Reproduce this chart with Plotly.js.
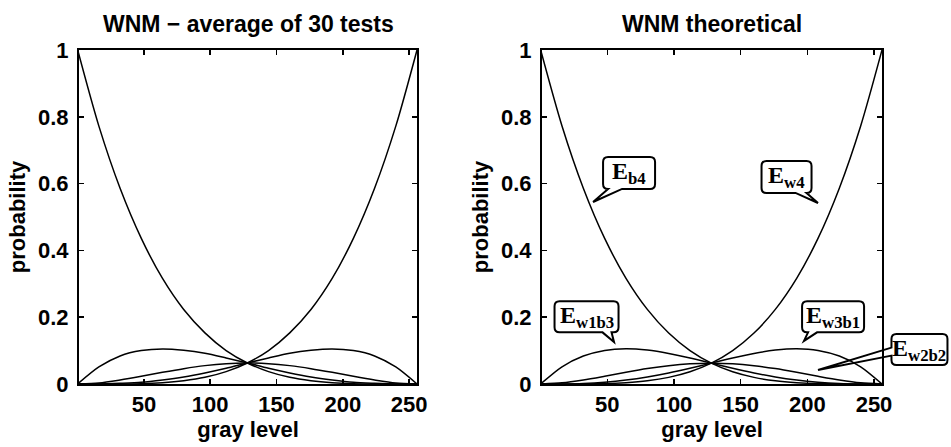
<!DOCTYPE html>
<html>
<head>
<meta charset="utf-8">
<script src="https://cdn.plot.ly/plotly-3.0.1.min.js"></script>
<style>html,body{margin:0;padding:0;background:#fff;}#chart{width:951px;height:447px;}</style>
</head>
<body>
<div id="chart"></div>
<script>
// ---- data ----
const grayLevel = [0,16,32,48,64,80,96,112,128,144,160,176,192,208,224,240,256];

// left panel: WNM - average of 30 tests
const avgEb4   = [1.000,0.772,0.586,0.436,0.316,0.223,0.153,0.100,0.063,0.037,0.020,0.010,0.004,0.001,0.000,0.000,0.000];
const avgEw4   = [0.000,0.000,0.000,0.001,0.004,0.010,0.020,0.037,0.063,0.100,0.153,0.223,0.316,0.436,0.586,0.772,1.000];
const avgEw1b3 = [0.000,0.051,0.084,0.100,0.105,0.101,0.092,0.078,0.063,0.047,0.033,0.021,0.012,0.005,0.002,0.000,0.000];
const avgEw3b1 = [0.000,0.000,0.002,0.005,0.012,0.021,0.033,0.047,0.063,0.078,0.092,0.101,0.105,0.100,0.084,0.051,0.000];
const avgEw2b2 = [0.000,0.003,0.012,0.023,0.035,0.046,0.055,0.061,0.063,0.061,0.055,0.046,0.035,0.023,0.012,0.003,0.000];

// right panel: WNM theoretical
const thEb4   = [1.0000,0.7725,0.5862,0.4358,0.3164,0.2234,0.1526,0.1001,0.0625,0.0366,0.0198,0.0095,0.0039,0.0012,0.0002,0.0000,0.0000];
const thEw4   = [0.0000,0.0000,0.0002,0.0012,0.0039,0.0095,0.0198,0.0366,0.0625,0.1001,0.1526,0.2234,0.3164,0.4358,0.5862,0.7725,1.0000];
const thEw1b3 = [0.0000,0.0515,0.0837,0.1006,0.1055,0.1015,0.0916,0.0779,0.0625,0.0471,0.0330,0.0210,0.0117,0.0054,0.0017,0.0002,0.0000];
const thEw3b1 = [0.0000,0.0002,0.0017,0.0054,0.0117,0.0210,0.0330,0.0471,0.0625,0.0779,0.0916,0.1015,0.1055,0.1006,0.0837,0.0515,0.0000];
const thEw2b2 = [0.0000,0.0034,0.0120,0.0232,0.0352,0.0462,0.0549,0.0606,0.0625,0.0606,0.0549,0.0462,0.0352,0.0232,0.0120,0.0034,0.0000];

const xTicks = [50,100,150,200,250];
const yTicks = [0,0.2,0.4,0.6,0.8,1];
const yTickText = ['0','0.2','0.4','0.6','0.8','1'];

const titles = ['WNM − average of 30 tests','WNM theoretical'];
const xTitle = 'gray level';
const yTitle = 'probability';

// ---- geometry ----
const W = 951, H = 447;
const M = {l:79, r:69, t:50, b:63};
const PW = W - M.l - M.r, PH = H - M.t - M.b;
const dom1 = [0, 338/PW], dom2 = [463/PW, 1];
const XR = [1,256], YR = [0,1];

function x2px(x){ return M.l + PW*(dom2[0] + (dom2[1]-dom2[0])*(x-XR[0])/(XR[1]-XR[0])); }
function y2px(y){ return M.t + PH*(1-(y-YR[0])/(YR[1]-YR[0])); }
function pX(px){ return (px - M.l)/PW; }
function pY(py){ return (H - M.b - py)/PH; }

const lineStyle = {color:'#000', width:1.5, shape:'spline', smoothing:0.8};
function tr(y, xa, ya){ return {x:grayLevel, y:y, type:'scatter', mode:'lines', line:lineStyle, xaxis:xa, yaxis:ya, hoverinfo:'skip'}; }

const data = [
  tr(avgEb4,'x','y'), tr(avgEw4,'x','y'), tr(avgEw1b3,'x','y'), tr(avgEw3b1,'x','y'), tr(avgEw2b2,'x','y'),
  tr(thEb4,'x2','y2'), tr(thEw4,'x2','y2'), tr(thEw1b3,'x2','y2'), tr(thEw3b1,'x2','y2'), tr(thEw2b2,'x2','y2')
];

const sansBold = {family:'Liberation Sans, Arial, Helvetica, sans-serif', size:22, color:'#000', weight:'bold'};
const titleFont = {family:'Liberation Sans, Arial, Helvetica, sans-serif', size:23, color:'#000', weight:'bold'};

function xa(dom, anchor){
  return {domain:dom, anchor:anchor, range:XR, tickvals:xTicks, ticks:'inside', ticklen:5, tickwidth:1.5,
    tickcolor:'#000', showline:true, linecolor:'#000', linewidth:2, mirror:'ticks', showgrid:false,
    zeroline:false, ticklabelstandoff:0, tickfont:sansBold, title:{text:xTitle, standoff:2, font:sansBold}};
}
function ya(anchor){
  return {domain:[0,1], anchor:anchor, range:YR, tickvals:yTicks, ticktext:yTickText, ticks:'inside', ticklen:5,
    tickwidth:1.5, tickcolor:'#000', showline:true, linecolor:'#000', linewidth:2, mirror:'ticks', showgrid:false,
    zeroline:false, ticklabelstandoff:4, tickfont:sansBold, title:{text:yTitle, standoff:6, font:sansBold}};
}

// ---- callouts on the theoretical panel ----
const callouts = [
  {text:'E<sub>b4</sub>',   tip:[39.3,0.545], box:[66.3,0.632],  w:52, h:32, side:'bottom', base:[-21,-7]},
  {text:'E<sub>w4</sub>',   tip:[208,0.542],  box:[184.4,0.620], w:50, h:32, side:'bottom', base:[9,20]},
  {text:'E<sub>w1b3</sub>', tip:[55,0.126],   box:[34.4,0.201],  w:64, h:31, side:'bottom', base:[16,25]},
  {text:'E<sub>w3b1</sub>', tip:[197.5,0.129],box:[219.3,0.201], w:62, h:31, side:'bottom', base:[-25,-16]},
  {text:'E<sub>w2b2</sub>', tip:[208,0.042],  box:[284.1,0.103], w:56, h:31, side:'left',   base:[-2,6]}
];

function bubblePath(c){
  const cx = x2px(c.box[0]), cy = y2px(c.box[1]);
  const tx = x2px(c.tip[0]), ty = y2px(c.tip[1]);
  const x0 = cx - c.w/2, x1 = cx + c.w/2, y0 = cy - c.h/2, y1 = cy + c.h/2, r = 5;
  const pts = [];
  const P = (cmd, ...xy) => { let s = cmd; for (let i=0;i<xy.length;i+=2){ s += (i?' ':'') + pX(xy[i]).toFixed(5) + ',' + pY(xy[i+1]).toFixed(5); } pts.push(s); };
  P('M', x0+r, y0);
  P('L', x1-r, y0);
  P('Q', x1, y0, x1, y0+r);
  P('L', x1, y1-r);
  P('Q', x1, y1, x1-r, y1);
  if (c.side === 'bottom'){
    P('L', cx + Math.max(c.base[0],c.base[1]), y1);
    P('L', tx, ty);
    P('L', cx + Math.min(c.base[0],c.base[1]), y1);
  }
  P('L', x0+r, y1);
  P('Q', x0, y1, x0, y1-r);
  if (c.side === 'left'){
    P('L', x0, cy + Math.max(c.base[0],c.base[1]));
    P('L', tx, ty);
    P('L', x0, cy + Math.min(c.base[0],c.base[1]));
  }
  P('L', x0, y0+r);
  P('Q', x0, y0, x0+r, y0);
  return pts.join(' ') + ' Z';
}

const shapes = callouts.map(c => ({type:'path', xref:'paper', yref:'paper', path:bubblePath(c),
  line:{color:'#000', width:2}, fillcolor:'rgba(255,255,255,0)', layer:'above'}));

const annotations = callouts.map(c => ({xref:'paper', yref:'paper', x:pX(x2px(c.box[0])), y:pY(y2px(c.box[1])),
  text:c.text, showarrow:false, xanchor:'center', yanchor:'middle',
  font:{family:'Liberation Serif, Times New Roman, serif', size:24, color:'#000', weight:'bold'}}));

annotations.push({xref:'paper', yref:'paper', x:(dom1[0]+dom1[1])/2, y:pY(24), text:titles[0], showarrow:false,
  xanchor:'center', yanchor:'middle', font:titleFont});
annotations.push({xref:'paper', yref:'paper', x:(dom2[0]+dom2[1])/2, y:pY(24), text:titles[1], showarrow:false,
  xanchor:'center', yanchor:'middle', font:titleFont});

const layout = {
  width:W, height:H, margin:M, showlegend:false,
  paper_bgcolor:'#fff', plot_bgcolor:'#fff',
  font:sansBold,
  xaxis:xa(dom1,'y'), yaxis:ya('x'),
  xaxis2:xa(dom2,'y2'), yaxis2:ya('x2'),
  shapes:shapes, annotations:annotations
};

Plotly.newPlot('chart', data, layout, {staticPlot:true, displayModeBar:false});
</script>
</body>
</html>
